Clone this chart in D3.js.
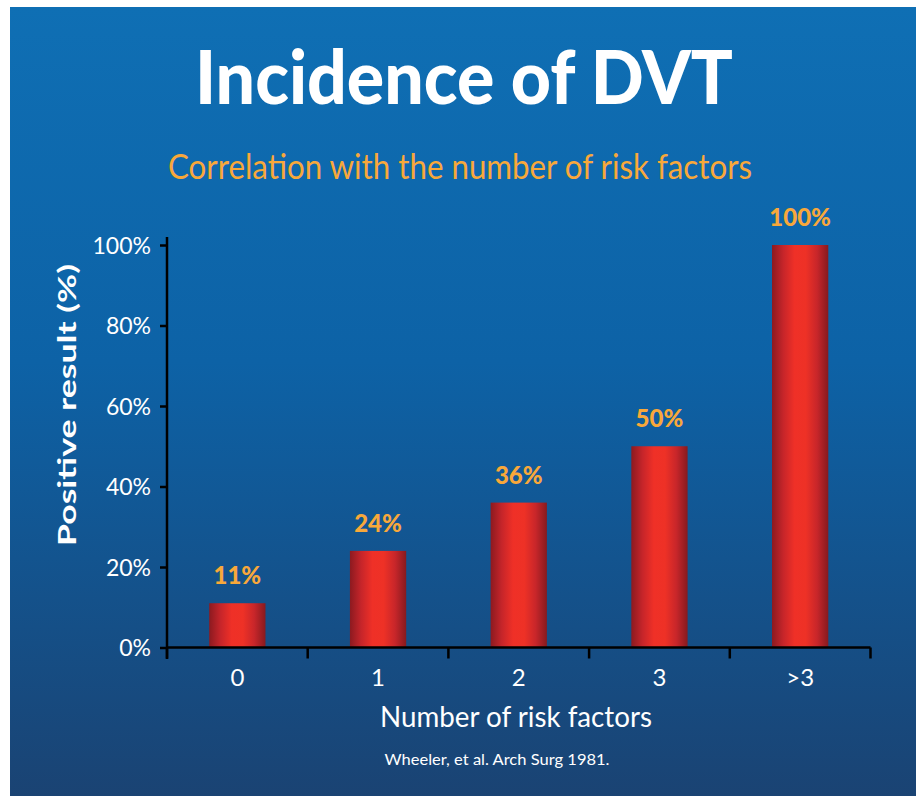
<!DOCTYPE html>
<html><head><meta charset="utf-8">
<script src="https://cdn.jsdelivr.net/npm/d3@7"></script>
<style>html,body{margin:0;padding:0;background:#fff;}svg{display:block;}</style>
</head><body>
<svg id="c" width="920" height="796"></svg>
<script>
const categories = ["0", "1", "2", "3", ">3"];
const values = [11, 24, 36, 50, 100];
const valueLabels = ["11%", "24%", "36%", "50%", "100%"];
const yTicks = [0, 20, 40, 60, 80, 100];
const titleText = "Incidence of DVT";
const subtitleText = "Correlation with the number of risk factors";
const yAxisTitle = "Positive result (%)";
const xAxisTitle = "Number of risk factors";
const sourceText = "Wheeler, et al. Arch Surg 1981.";

const svg = d3.select("#c");
const defs = svg.append("defs");
const bg = defs.append("linearGradient").attr("id","bg").attr("x1",0).attr("y1",0).attr("x2",0).attr("y2",1);
bg.append("stop").attr("offset","0%").attr("stop-color","#0f6fb4");
bg.append("stop").attr("offset","45%").attr("stop-color","#0d62a6");
bg.append("stop").attr("offset","100%").attr("stop-color","#1a4373");
const bar = defs.append("linearGradient").attr("id","bar").attr("x1",0).attr("y1",0).attr("x2",1).attr("y2",0);
[["0%","#8c1a20"],["20%","#c6252a"],["40%","#ef3027"],["60%","#ee3126"],["80%","#c8262a"],["100%","#861a1f"]]
  .forEach(s=>bar.append("stop").attr("offset",s[0]).attr("stop-color",s[1]));

svg.append("rect").attr("x",10).attr("y",7).attr("width",906).attr("height",789).attr("fill","url(#bg)");

const font = "Lato, 'Open Sans', sans-serif";
const orange = "#f8a83a";

svg.append("text").attr("x",464).attr("y",104).attr("text-anchor","middle")
  .attr("font-family",font).attr("font-weight",900).attr("font-size",74).attr("fill","#fff")
  .attr("textLength",538).attr("lengthAdjust","spacingAndGlyphs").text(titleText);
svg.append("text").attr("x",460).attr("y",179).attr("text-anchor","middle")
  .attr("font-family",font).attr("font-weight",400).attr("font-size",34).attr("fill",orange)
  .attr("textLength",584).attr("lengthAdjust","spacingAndGlyphs").text(subtitleText);

const x = d3.scaleBand().domain(categories).range([167, 870.5]).paddingInner(0.6).paddingOuter(0.3);
const y = d3.scaleLinear().domain([0,100]).range([647.5, 245]);

// bars
svg.append("g").selectAll("rect").data(values).join("rect")
  .attr("x",(d,i)=>x(categories[i])).attr("width",x.bandwidth())
  .attr("y",d=>y(d)).attr("height",d=>y(0)-y(d)).attr("fill","url(#bar)");

// value labels
svg.append("g").selectAll("text").data(values).join("text")
  .attr("x",(d,i)=>x(categories[i])+x.bandwidth()/2).attr("y",d=>y(d)-19)
  .attr("text-anchor","middle").attr("font-family",font).attr("font-weight",900)
  .attr("font-size",24).attr("fill",orange).text((d,i)=>valueLabels[i]);

// y axis
const yAxis = d3.axisLeft(y).tickValues(yTicks).tickFormat(d=>d+"%").tickSize(7).tickPadding(9).tickSizeOuter(0);
const gy = svg.append("g").attr("transform","translate(167,0)").call(yAxis);
gy.select(".domain").remove();
gy.selectAll("line").attr("stroke","#000").attr("stroke-width",2.5);
gy.selectAll("text").attr("font-family",font).attr("font-size",23).attr("fill","#fff").attr("dy","0.36em");
svg.append("line").attr("x1",167).attr("x2",167).attr("y1",237).attr("y2",659).attr("stroke","#000").attr("stroke-width",2.5);

// x axis
const step = x.step();
const bounds = categories.map(c=>x(c)-(step-x.bandwidth())/2).concat([x.range()[1]]);
svg.append("line").attr("x1",167).attr("x2",x.range()[1]).attr("y1",y(0)).attr("y2",y(0)).attr("stroke","#000").attr("stroke-width",2.5);
svg.append("g").selectAll("line").data(bounds).join("line")
  .attr("x1",d=>d).attr("x2",d=>d).attr("y1",y(0)).attr("y2",y(0)+11).attr("stroke","#000").attr("stroke-width",2.5);
svg.append("g").selectAll("text").data(categories).join("text")
  .attr("x",d=>x(d)+x.bandwidth()/2).attr("y",686).attr("text-anchor","middle")
  .attr("font-family",font).attr("font-size",24).attr("fill","#fff").text(d=>d);

// axis titles
svg.append("text").attr("transform","translate(76,405) rotate(-90)").attr("text-anchor","middle")
  .attr("font-family",font).attr("font-weight",700).attr("font-size",25).attr("fill","#fff")
  .attr("textLength",282).attr("lengthAdjust","spacingAndGlyphs").text(yAxisTitle);
svg.append("text").attr("x",516).attr("y",727).attr("text-anchor","middle")
  .attr("font-family",font).attr("font-size",28).attr("fill","#fff")
  .attr("textLength",272).attr("lengthAdjust","spacingAndGlyphs").text(xAxisTitle);
svg.append("text").attr("x",497).attr("y",765).attr("text-anchor","middle")
  .attr("font-family",font).attr("font-size",16).attr("fill","#fff")
  .attr("textLength",225).attr("lengthAdjust","spacingAndGlyphs").text(sourceText);
</script>
</body></html>
